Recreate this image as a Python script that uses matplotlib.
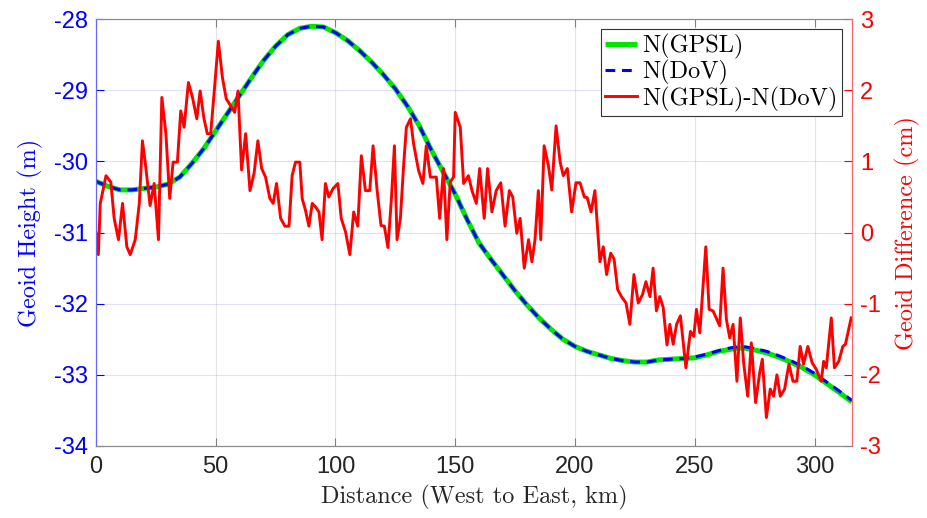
import matplotlib
matplotlib.use("Agg")
import matplotlib.pyplot as plt

plt.rcParams["axes.unicode_minus"] = False

# ── data ────────────────────────────────────────────────────────────────────
dist_km = [0, 5, 10, 15, 20, 25, 30, 35, 40, 45, 50, 55, 60, 65, 70, 75, 80,
           85, 90, 95, 100, 105, 110, 115, 120, 125, 130, 135, 140, 145, 150,
           155, 160, 165, 170, 175, 180, 185, 190, 195, 200, 205, 210, 215,
           220, 225, 230, 235, 240, 245, 250, 255, 260, 265, 270, 275, 280,
           285, 290, 295, 300, 305, 310, 315.6]
n_gpsl = [-30.28, -30.35, -30.40, -30.40, -30.38, -30.36, -30.32, -30.22,
          -30.03, -29.82, -29.57, -29.32, -29.07, -28.82, -28.58, -28.38,
          -28.22, -28.13, -28.10, -28.11, -28.19, -28.30, -28.44, -28.60,
          -28.78, -28.98, -29.22, -29.50, -29.84, -30.15, -30.46, -30.82,
          -31.15, -31.38, -31.60, -31.82, -32.02, -32.20, -32.36, -32.50,
          -32.60, -32.67, -32.72, -32.77, -32.80, -32.82, -32.82, -32.79,
          -32.78, -32.77, -32.76, -32.72, -32.67, -32.64, -32.62, -32.65,
          -32.69, -32.75, -32.82, -32.90, -33.00, -33.12, -33.24, -33.38]
n_dov = [-30.28, -30.35, -30.40, -30.40, -30.38, -30.36, -30.32, -30.22,
         -30.03, -29.82, -29.57, -29.32, -29.07, -28.82, -28.58, -28.38,
         -28.22, -28.13, -28.10, -28.11, -28.19, -28.30, -28.44, -28.60,
         -28.78, -28.98, -29.22, -29.50, -29.84, -30.15, -30.46, -30.82,
         -31.15, -31.38, -31.60, -31.82, -32.02, -32.20, -32.36, -32.50,
         -32.60, -32.67, -32.72, -32.77, -32.80, -32.82, -32.82, -32.79,
         -32.78, -32.77, -32.75, -32.71, -32.66, -32.62, -32.60, -32.63,
         -32.67, -32.73, -32.80, -32.88, -32.98, -33.10, -33.22, -33.36]

diff_km = [0.0, 1.0, 1.8, 4.2, 6.2, 7.6, 9.4, 11.1, 12.9, 14.3, 16.4, 18.1,
           19.4, 20.8, 22.6, 24.3, 26.1, 27.5, 29.2, 30.8, 32.2, 34.0, 35.4,
           36.8, 38.6, 40.3, 42.1, 43.5, 45.1, 46.5, 47.9, 49.3, 51.1, 52.8,
           54.4, 56.3, 57.9, 59.3, 60.8, 62.5, 64.3, 66.0, 67.6, 69.2, 70.8,
           72.6, 74.0, 75.4, 77.1, 78.9, 80.6, 81.9, 83.3, 85.1, 86.1, 87.5,
           88.9, 90.3, 91.7, 93.1, 94.4, 95.8, 97.2, 99.0, 101.0, 102.4,
           104.2, 106.0, 107.6, 109.3, 110.8, 112.5, 114.3, 115.7, 117.4,
           119.0, 120.4, 121.9, 123.3, 124.6, 125.7, 127.1, 128.5, 129.6,
           131.3, 132.6, 134.7, 136.5, 137.9, 139.6, 142.1, 143.5, 145.1,
           146.5, 147.9, 149.3, 150.0, 152.1, 153.5, 155.5, 157.0, 158.8,
           160.2, 162.1, 163.5, 165.3, 167.1, 169.0, 170.8, 172.6, 174.0,
           175.7, 177.1, 178.8, 180.6, 182.0, 183.3, 184.7, 185.7, 187.1,
           188.9, 190.3, 192.1, 193.8, 195.1, 196.8, 198.6, 200.4, 202.1,
           203.9, 205.1, 206.7, 208.3, 210.4, 211.8, 213.2, 214.9, 216.3,
           217.8, 219.4, 221.3, 222.9, 224.6, 226.4, 228.2, 229.6, 231.3,
           232.6, 234.0, 235.4, 236.8, 238.4, 239.6, 241.0, 242.4, 244.0,
           246.3, 248.2, 249.6, 250.7, 252.1, 254.6, 256.0, 257.6, 260.4,
           261.8, 263.2, 264.6, 266.0, 267.6, 269.0, 270.4, 272.1, 273.6,
           275.4, 277.1, 278.2, 279.9, 281.5, 282.9, 284.3, 285.7, 287.5,
           289.3, 291.0, 292.6, 294.0, 295.4, 297.2, 299.0, 300.7, 302.8,
           303.8, 304.9, 307.0, 308.3, 310.1, 311.8, 312.9, 315.3]
diff_cm = [0.00, -0.31, 0.41, 0.80, 0.71, 0.20, -0.10, 0.41, -0.20, -0.31,
           -0.10, 0.41, 1.29, 0.92, 0.38, 0.69, -0.10, 1.90, 1.39, 0.48,
           0.99, 0.99, 1.71, 1.48, 2.11, 1.90, 1.60, 1.99, 1.60, 1.39, 1.39,
           1.95, 2.69, 2.18, 1.88, 1.78, 1.69, 1.99, 0.88, 1.39, 0.59, 0.83,
           1.29, 0.90, 0.78, 0.48, 0.41, 0.69, 0.20, 0.09, 0.09, 0.80, 0.99,
           0.99, 0.48, 0.31, 0.09, 0.41, 0.36, 0.29, -0.10, 0.69, 0.50, 0.62,
           0.69, 0.20, 0.01, -0.31, 0.29, 0.09, 1.08, 0.59, 0.59, 1.22, 0.59,
           0.10, 0.09, -0.21, 0.45, 1.22, -0.10, 0.20, 0.97, 1.48, 1.60,
           1.25, 0.87, 0.69, 1.22, 0.78, 0.78, 0.20, 0.90, -0.10, 0.71, 0.78,
           1.69, 1.48, 0.69, 0.80, 0.59, 0.41, 0.90, 0.20, 0.90, 0.29, 0.59,
           0.70, 0.09, 0.59, 0.50, -0.01, 0.20, -0.50, -0.10, -0.41, -0.10,
           0.59, -0.10, 1.22, 0.94, 0.60, 1.50, 0.99, 0.80, 0.90, 0.29, 0.70,
           0.70, 0.50, 0.49, 0.29, 0.59, -0.41, -0.20, -0.59, -0.29, -0.37,
           -0.80, -0.90, -0.99, -1.29, -0.59, -0.99, -0.87, -0.69, -0.90,
           -0.50, -1.10, -0.90, -1.05, -1.58, -1.29, -1.57, -1.29, -1.17,
           -1.90, -1.39, -1.46, -1.08, -1.41, -0.20, -1.08, -1.10, -1.31,
           -0.50, -1.22, -1.48, -1.29, -2.09, -1.20, -1.83, -2.30, -1.55,
           -2.39, -1.97, -1.78, -2.60, -2.20, -2.30, -2.00, -2.30, -2.20,
           -1.85, -2.09, -2.09, -1.60, -1.85, -1.60, -1.83, -1.92, -2.09,
           -1.81, -1.90, -1.20, -1.90, -1.81, -1.60, -1.57, -1.20]

x_ticks = [0, 50, 100, 150, 200, 250, 300]
left_ticks = [-34, -33, -32, -31, -30, -29, -28]
right_ticks = [-3, -2, -1, 0, 1, 2, 3]

BLUE = "#0000ff"
RED = "#ff0000"
GREEN = "#00e600"
SERIF = "cmr10"
SANS = "Liberation Sans"

fig = plt.figure(figsize=(9.28, 5.18), dpi=100)
ax = fig.add_axes([0.1034, 0.139, 0.8146, 0.824])
ax2 = ax.twinx()

l1, = ax.plot(dist_km, n_gpsl, color=GREEN, lw=3.6, solid_capstyle="butt",
              label="N(GPSL)")
l2, = ax.plot(dist_km, n_dov, color=BLUE, lw=2.2, ls=(0, (3.2, 2.2)),
              label="N(DoV)")
l3, = ax2.plot(diff_km, diff_cm, color=RED, lw=2.1, label="N(GPSL)-N(DoV)")

ax.set_xlim(0, 315.6)
ax.set_ylim(-34, -28)
ax2.set_ylim(-3, 3)
ax.set_xticks(x_ticks)
ax.set_yticks(left_ticks)
ax2.set_yticks(right_ticks)

ax.grid(True, axis="x", color="#262626", alpha=0.12, lw=0.8)
ax.grid(True, axis="y", color=BLUE, alpha=0.12, lw=0.8)
ax.set_axisbelow(True)

ax.tick_params(axis="x", direction="in", top=True, length=6, width=0.8,
               color="#808080", labelsize=17, pad=7, labelcolor="#262626")
ax.tick_params(axis="y", direction="in", length=6, width=0.8, color=BLUE,
               labelsize=17, pad=6, labelcolor=BLUE)
ax2.tick_params(axis="y", direction="in", length=6, width=0.8, color=RED,
                labelsize=17, pad=6, labelcolor=RED)
for lab in ax.get_xticklabels() + ax.get_yticklabels() + ax2.get_yticklabels():
    lab.set_fontfamily(SANS)

for a in (ax, ax2):
    a.spines["top"].set_color("#8c8c8c")
    a.spines["bottom"].set_color("#8c8c8c")
    a.spines["left"].set_color("#6666ff")
    a.spines["right"].set_color("#ff6666")
    for s in a.spines.values():
        s.set_linewidth(0.8)

ax.set_xlabel("Distance (West to East, km)", fontfamily=SERIF, fontsize=17.5,
              color="#262626", labelpad=5)
ax.set_ylabel("Geoid Height (m)", fontfamily=SERIF, fontsize=17.5, color=BLUE,
              labelpad=8)
ax2.set_ylabel("Geoid Difference (cm)", fontfamily=SERIF, fontsize=17.5,
               color=RED, labelpad=10)

leg = ax2.legend(handles=[l1, l2, l3], loc="upper right",
                 prop={"family": SERIF, "size": 17.5}, fancybox=False,
                 framealpha=1, edgecolor="#333333", handlelength=1.3,
                 handletextpad=0.2, borderpad=0.2, labelspacing=0.05,
                 borderaxespad=0.4)
leg.get_frame().set_linewidth(0.8)

fig.savefig("out.png", dpi=100)
